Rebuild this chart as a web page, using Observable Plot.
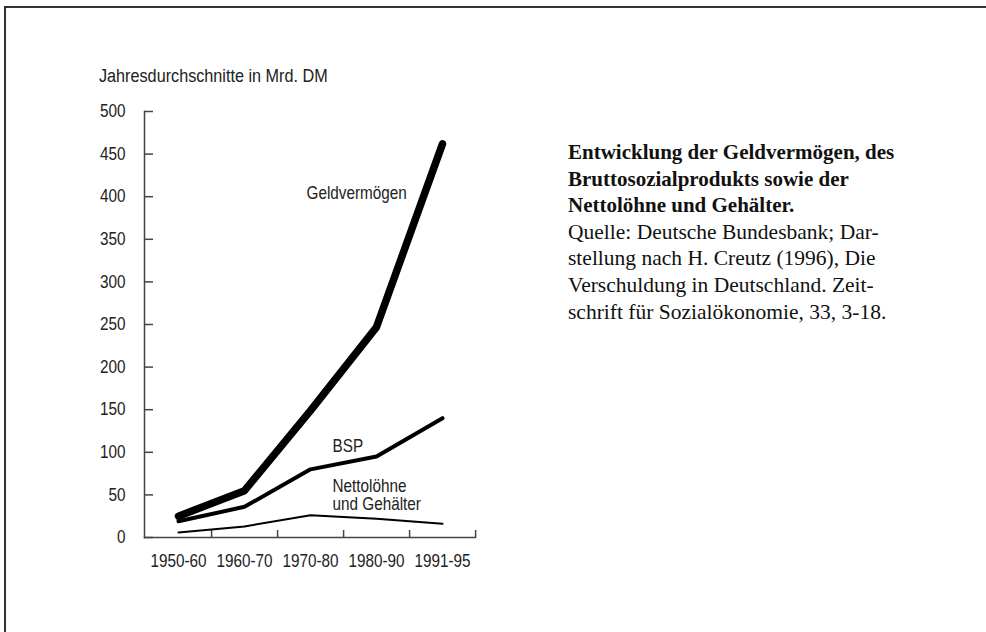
<!DOCTYPE html>
<html>
<head>
<meta charset="utf-8">
<script src="https://cdn.jsdelivr.net/npm/d3@7"></script>
<script src="https://cdn.jsdelivr.net/npm/@observablehq/plot@0.6"></script>
<style>
  html, body { margin: 0; padding: 0; background: #fff; }
  #page { position: relative; width: 986px; height: 632px; overflow: hidden; background: #fff; }
  #frame { position: absolute; left: 4px; top: 6px; width: 990px; height: 640px;
           border-left: 2px solid #333; border-top: 2px solid #333; }
  #chart { position: absolute; left: 0; top: 0; }
  #ylabel { position: absolute; left: 99px; top: 66px; font-family: "Liberation Sans", Arial, sans-serif;
            font-size: 18px; white-space: nowrap; color: #222; transform: scaleX(0.9); transform-origin: 0 0; }
  #caption { position: absolute; left: 568px; top: 139px; font-family: "Liberation Serif", "DejaVu Serif", serif;
             font-size: 21.5px; line-height: 26.6px; color: #111; white-space: nowrap; }
  #caption .b { font-weight: bold; font-size: 21px; }
</style>
</head>
<body>
<div id="page">
  <div id="frame"></div>
  <div id="chart"></div>
  <div id="ylabel"></div>
  <div id="caption"></div>
</div>
<script>
// ---- data ----
const categories = ["1950-60", "1960-70", "1970-80", "1980-90", "1991-95"];
const geldvermoegen = [25, 55, 149, 247, 462];
const bsp = [19, 36, 80, 95, 140];
const nettoloehne = [6, 13, 26, 22, 16];
const yTicks = [0, 50, 100, 150, 200, 250, 300, 350, 400, 450, 500];

const seriesNames = ["Geldvermögen", "BSP", "Nettolöhne und Gehälter"];
const seriesValues = [geldvermoegen, bsp, nettoloehne];
const seriesWidths = [7.5, 4, 2];

const labelTexts = ["Geldvermögen", "BSP", "Nettolöhne\nund Gehälter"];
const labelCats = ["1970-80", "1970-80", "1970-80"];
const labelValues = [404, 107, 50];
const labelDx = [-4, 22, 22];

const yAxisTitle = "Jahresdurchschnitte in Mrd. DM";
const captionBold = ["Entwicklung der Geldvermögen, des", "Bruttosozialprodukts sowie der", "Nettolöhne und Gehälter."];
const captionPlain = ["Quelle: Deutsche Bundesbank; Dar-", "stellung nach H. Creutz (1996), Die", "Verschuldung in Deutschland. Zeit-", "schrift für Sozialökonomie, 33, 3-18."];

// ---- tables ----
const rows = seriesNames.flatMap((s, i) =>
  categories.map((c, j) => ({series: s, cat: c, value: seriesValues[i][j]})));
const labels = labelTexts.map((t, i) => ({text: t, cat: labelCats[i], value: labelValues[i], dx: labelDx[i]}));

const W = 986, H = 632;
const mL = 144, mR = 511, mT = 111, mB = 95;
const frameW = W - mL - mR, frameH = H - mT - mB;
const bw = frameW / categories.length;
const fontFam = '"Liberation Sans", Arial, sans-serif';
const axisColor = "#444";
const CONDENSE = 0.85;

const marks = [
  Plot.frame({anchor: "left", stroke: axisColor, strokeWidth: 1.5}),
  Plot.frame({anchor: "bottom", stroke: axisColor, strokeWidth: 1.5}),
  // y ticks pointing inward
  Plot.ruleY(yTicks, {y: d => d, insetRight: frameW - 9, stroke: axisColor, strokeWidth: 1.5}),
  // x ticks at band boundaries, pointing up
  Plot.ruleX(categories, {x: d => d, dx: bw / 2, insetTop: frameH - 7, stroke: axisColor, strokeWidth: 1.5}),
  Plot.axisY(yTicks, {tickSize: 0, tickPadding: 19, fontSize: 18, fill: "#222", fontFamily: fontFam, label: null}),
  Plot.axisX({tickSize: 0, tickPadding: 17, fontSize: 18, fill: "#222", fontFamily: fontFam, label: null}),
];
seriesNames.forEach((s, i) => {
  marks.push(Plot.line(rows.filter(r => r.series === s), {
    x: "cat", y: "value", stroke: "#000", strokeWidth: seriesWidths[i],
    strokeLinejoin: "miter", strokeLinecap: "round"
  }));
});
labels.forEach(l => {
  marks.push(Plot.text([l], {
    x: "cat", y: "value", text: "text", dx: l.dx, textAnchor: "start",
    fontSize: 18, fill: "#222", fontFamily: fontFam, lineHeight: 1.0
  }));
});

const chart = Plot.plot({
  width: W, height: H,
  marginLeft: mL, marginRight: mR, marginTop: mT, marginBottom: mB,
  style: {background: "transparent", overflow: "visible"},
  x: {type: "band", domain: categories, padding: 0, axis: null},
  y: {domain: [0, 500], axis: null},
  marks
});
// condensed look: narrow every text horizontally around its own anchor
chart.querySelectorAll("text").forEach(t => {
  const xa = t.getAttribute("x");
  const x = xa && /^-?[\d.]+$/.test(xa) ? +xa : 0;
  const tr = t.getAttribute("transform") || "";
  t.setAttribute("transform", `${tr} translate(${x},0) scale(${CONDENSE},1) translate(${-x},0)`.trim());
});
document.getElementById("chart").appendChild(chart);
document.getElementById("ylabel").textContent = yAxisTitle;
const cap = document.getElementById("caption");
captionBold.forEach(t => { const d = document.createElement("div"); d.className = "b"; d.textContent = t; cap.appendChild(d); });
captionPlain.forEach(t => { const d = document.createElement("div"); d.textContent = t; cap.appendChild(d); });
</script>
</body>
</html>
